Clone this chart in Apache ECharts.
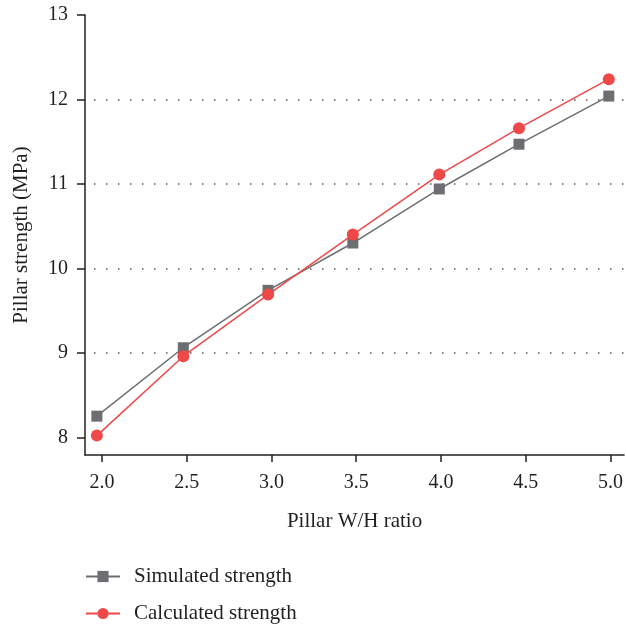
<!DOCTYPE html>
<html>
<head>
<meta charset="utf-8">
<script src="https://cdn.jsdelivr.net/npm/echarts@6/dist/echarts.min.js"></script>
<style>
  html, body { margin: 0; padding: 0; background: #fff; }
  #chart { width: 626px; height: 627px; }
</style>
</head>
<body>
<div id="chart"></div>
<script>
const ratios = [1.97, 2.48, 2.98, 3.48, 3.99, 4.46, 4.99];
const simulated = [8.25, 9.06, 9.74, 10.30, 10.94, 11.47, 12.04];
const calculated = [8.02, 8.96, 9.69, 10.40, 11.11, 11.66, 12.24];

const xTicks = [2.0, 2.5, 3.0, 3.5, 4.0, 4.5, 5.0];
const yTicks = [8, 9, 10, 11, 12, 13];

const FONT = "Liberation Serif";
const TEXT = "#231f20";

const chart = echarts.init(document.getElementById("chart"));

const pair = (vals) => ratios.map((r, i) => [r, vals[i]]);

const option = {
  animation: false,
  textStyle: { fontFamily: FONT, color: TEXT },
  grid: { left: 85, top: 15, width: 541, bottom: 172, containLabel: false },
  xAxis: {
    type: "value",
    min: 1.9,
    max: 5.08,
    name: "Pillar W/H ratio",
    nameLocation: "middle",
    nameGap: 56,
    nameTextStyle: { fontFamily: FONT, fontSize: 21, color: TEXT },
    axisLine: { lineStyle: { color: TEXT, width: 1.5 } },
    axisTick: {
      show: true,
      length: 7,
      customValues: xTicks,
      lineStyle: { color: TEXT, width: 1.5 },
    },
    axisLabel: {
      customValues: xTicks,
      margin: 18,
      fontFamily: FONT,
      fontSize: 20,
      color: TEXT,
      formatter: (v) => v.toFixed(1),
    },
    splitLine: { show: false },
  },
  yAxis: {
    type: "value",
    min: 7.79,
    max: 13,
    name: "Pillar strength (MPa)",
    nameLocation: "middle",
    nameGap: 53,
    nameTextStyle: { fontFamily: FONT, fontSize: 21, color: TEXT },
    axisLine: { show: true, lineStyle: { color: TEXT, width: 1.5 } },
    axisTick: {
      show: true,
      length: 8,
      customValues: yTicks,
      lineStyle: { color: TEXT, width: 1.5 },
    },
    axisLabel: {
      customValues: yTicks,
      margin: 17,
      fontFamily: FONT,
      fontSize: 20,
      color: TEXT,
    },
    splitLine: {
      show: true,
      showMinLine: false,
      showMaxLine: false,
      lineStyle: { color: "#555", width: 1.5, type: [1.5, 10.5], dashOffset: -9 },
    },
  },
  legend: {
    orient: "vertical",
    left: 85,
    top: 566,
    height: 90,
    padding: 0,
    itemWidth: 34,
    itemHeight: 14,
    itemGap: 16,
    textStyle: {
      fontFamily: FONT,
      fontSize: 21,
      lineHeight: 18,
      color: TEXT,
      padding: [0, 0, 0, 9],
    },
    data: ["Simulated strength", "Calculated strength"],
  },
  series: [
    {
      name: "Simulated strength",
      type: "line",
      data: pair(simulated),
      symbol: "rect",
      symbolSize: 11,
      lineStyle: { color: "#6d6e71", width: 1.5 },
      itemStyle: { color: "#6d6e71" },
      z: 2,
    },
    {
      name: "Calculated strength",
      type: "line",
      data: pair(calculated),
      symbol: "circle",
      symbolSize: 12,
      lineStyle: { color: "#ef4848", width: 1.5 },
      itemStyle: { color: "#ef4848" },
      z: 3,
    },
  ],
};

chart.setOption(option);
</script>
</body>
</html>
